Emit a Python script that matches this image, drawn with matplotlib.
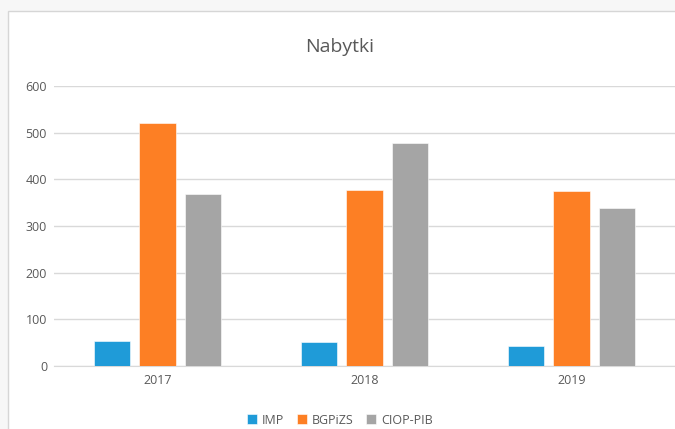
import numpy as np
import matplotlib.pyplot as plt
from matplotlib.patches import Rectangle

years = ['2017', '2018', '2019']
imp = [54, 51, 42]
bgpizs = [520, 377, 374]
ciop_pib = [368, 477, 338]

series = [('IMP', imp, '#1f9bd8'), ('BGPiZS', bgpizs, '#fd7f24'), ('CIOP-PIB', ciop_pib, '#a5a5a5')]

plt.rcParams['font.family'] = ['Open Sans', 'DejaVu Sans']
txt = '#595959'

fig = plt.figure(figsize=(6.75, 4.29), dpi=100, facecolor='#f7f7f7')
# white chart area with thin grey frame
fig.patches.append(Rectangle((8 / 675, -0.05), 1.0, (429 - 11) / 429 + 0.05,
                             transform=fig.transFigure, facecolor='white',
                             edgecolor='#d6d6d6', lw=1, zorder=-5))

ax = fig.add_axes([54 / 675, 63 / 429, 621 / 675, 280 / 429])
ax.set_facecolor('none')
ax.set_zorder(2)

x = np.arange(len(years))
w = 0.174
step = 0.222
for i, (name, vals, col) in enumerate(series):
    ax.bar(x + (i - 1) * step, vals, w, color=col, label=name, zorder=3,
           edgecolor='white', linewidth=0.4)

ax.set_xlim(-0.5, 2.5)
ax.set_ylim(0, 600)
ax.set_yticks(range(0, 601, 100))
ax.set_xticks(x)
ax.set_xticklabels(years)
ax.grid(axis='y', color='#d9d9d9', lw=1, zorder=0)
for s in ['top', 'right', 'left']:
    ax.spines[s].set_visible(False)
ax.spines['bottom'].set_color('#d9d9d9')
ax.tick_params(axis='both', length=0, colors=txt, labelsize=9)
ax.tick_params(axis='x', pad=6)
ax.tick_params(axis='y', pad=5)

fig.text(340 / 675, (429 - 47) / 429, 'Nabytki', ha='center', va='center',
         fontsize=14, color=txt)

leg = fig.legend(loc='center', bbox_to_anchor=(340 / 675, 9 / 429), ncol=3,
                 frameon=False, fontsize=9, handlelength=0.8, handleheight=0.8,
                 columnspacing=1.0, handletextpad=0.4)
for t in leg.get_texts():
    t.set_color(txt)

fig.savefig('out.png', dpi=100, facecolor=fig.get_facecolor())
